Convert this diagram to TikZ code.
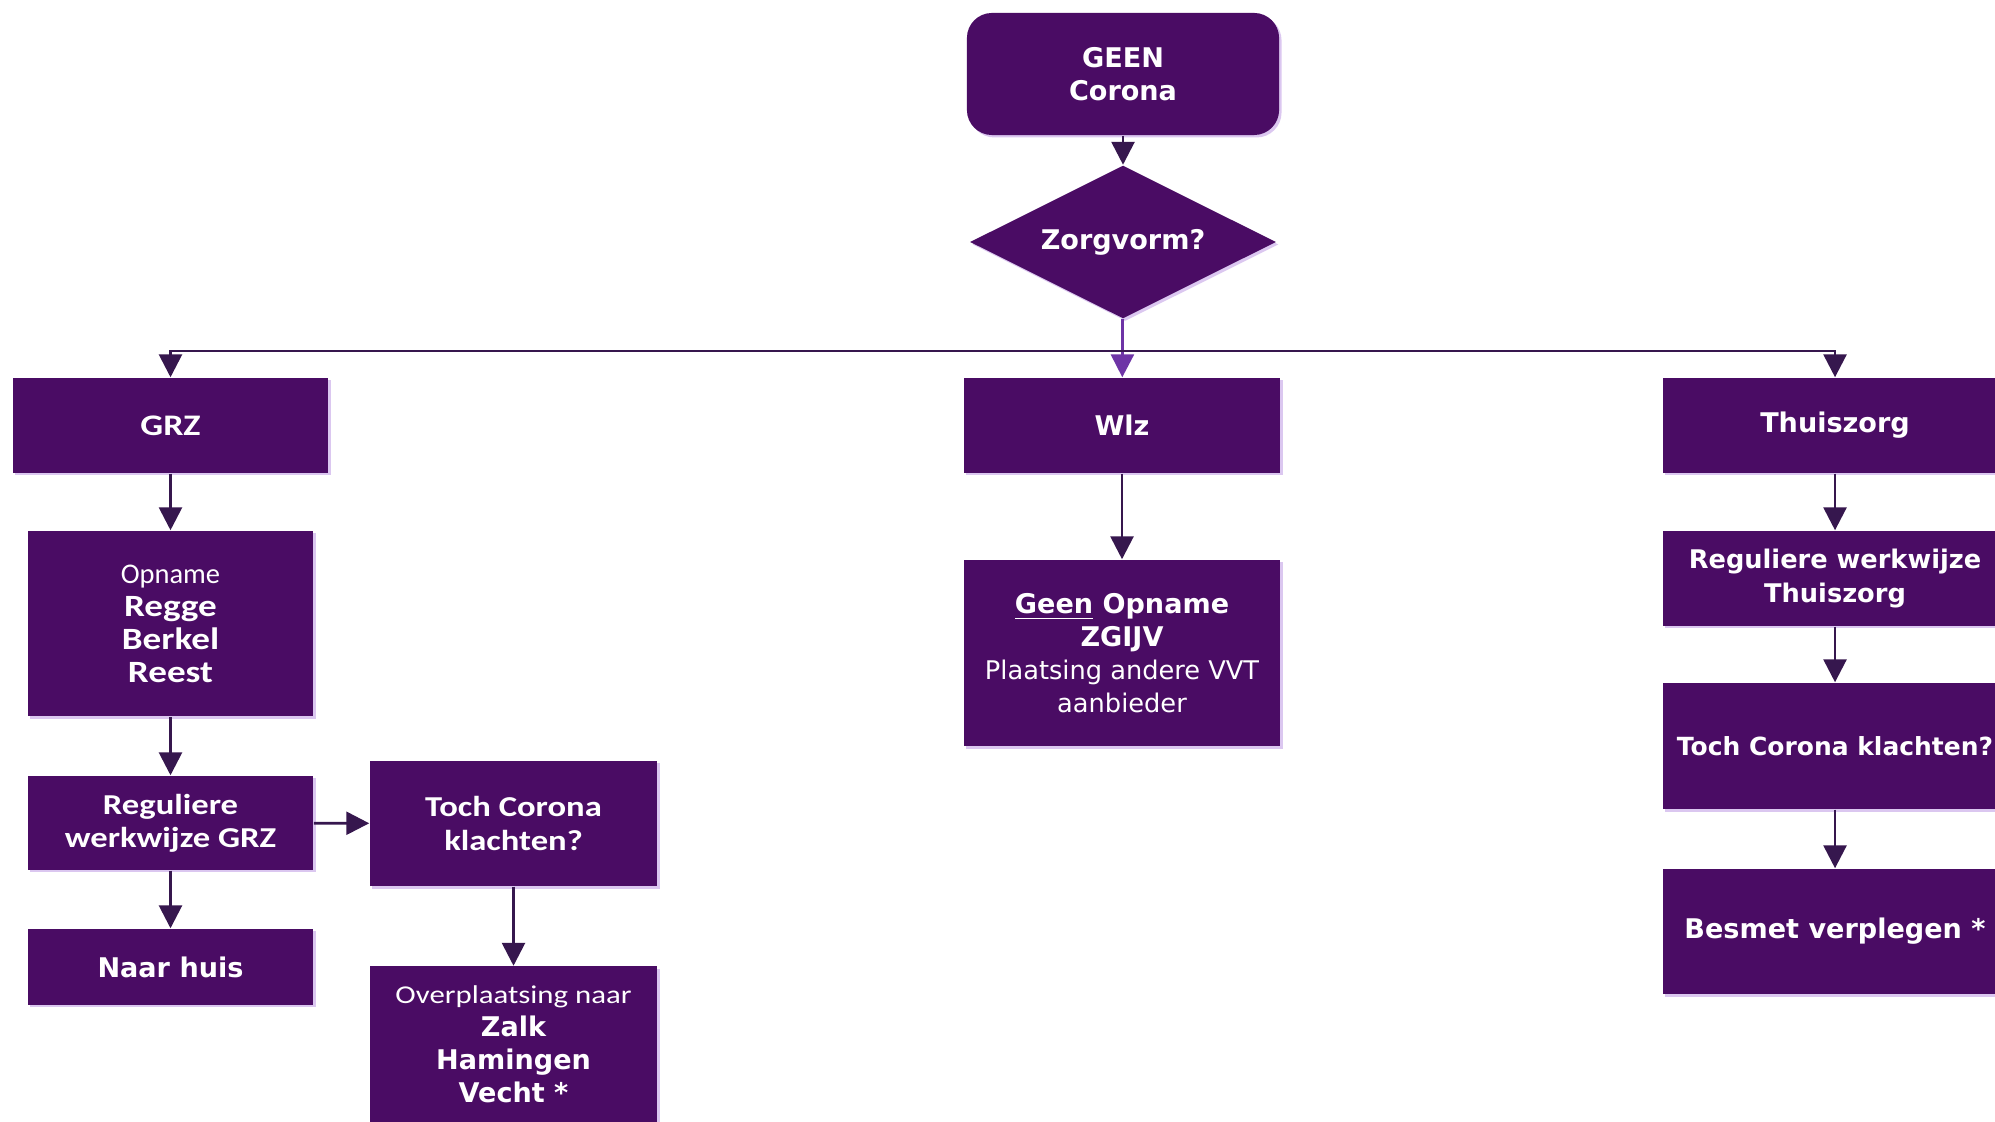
\documentclass[tikz,border=0pt]{standalone}
\usepackage{fontspec}
\setmainfont{DejaVu Sans}
\newfontfamily\calibri{Carlito}
\newfontfamily\calibriwide[FakeStretch=1.2]{Carlito}
\usetikzlibrary{shapes.geometric,arrows.meta,shadows}
\definecolor{boxpurple}{HTML}{4A0C64}
\definecolor{linedark}{HTML}{36174E}
\definecolor{linelight}{HTML}{6E34A6}
\definecolor{glow}{HTML}{CDB0EA}
\begin{document}
\begin{tikzpicture}[x=0.01cm,y=-0.01cm,
  box/.style={fill=boxpurple,text=white,align=center,inner sep=0pt,
    font=\fontsize{7.7}{9.4}\selectfont\bfseries,
    drop shadow={shadow xshift=0.7pt,shadow yshift=-0.7pt,fill=glow,opacity=0.7}},
  leftcol/.style={box,minimum width=2.85cm},
  rightcol/.style={box,minimum width=3.44cm},
  arr/.style={draw=linedark,line width=0.8pt,-{Triangle[length=6.5pt,width=6.5pt]}}]
  \fill[white] (0,0) rectangle (1995,1122);
  \useasboundingbox (0,0) rectangle (1995,1122);
  % top of the chart
  \node[box,rounded corners=0.25cm,minimum width=3.12cm,minimum height=1.22cm] (geen) at (1123,74) {GEEN\\Corona};
  \node[box,diamond,aspect=2,minimum width=3.06cm,minimum height=1.53cm] (zorg) at (1123,242) {Zorgvorm?};
  \coordinate (split) at (1123,351);
  % three kinds of care
  \node[box,minimum width=3.15cm,minimum height=0.95cm,font=\fontsize{8.5}{9.4}\calibriwide\bfseries] (grz) at (170.5,425.5) {GRZ};
  \node[box,minimum width=3.16cm,minimum height=0.95cm] (wlz) at (1122,425.5) {Wlz};
  \node[rightcol,minimum height=0.95cm] (thuis) at (1835,425.5) {Thuiszorg};
  % GRZ column
  \node[leftcol,minimum height=1.85cm,font=\fontsize{8.8}{9.4}\selectfont] (opname) at (170.5,623.5)
    {{\fontsize{8.1}{9.4}\calibri Opname}\\{\calibriwide\bfseries Regge}\\{\calibriwide\bfseries Berkel}\\{\calibriwide\bfseries Reest}};
  \node[leftcol,minimum height=0.94cm,font=\fontsize{8.2}{9.4}\calibriwide\bfseries] (reggrz) at (170.5,823) {Reguliere\\werkwijze GRZ};
  \node[leftcol,minimum height=0.76cm] (huis) at (170.5,967) {Naar huis};
  \node[box,minimum width=2.87cm,minimum height=1.25cm,font=\fontsize{8.2}{9.4}\calibriwide\bfseries] (tochl) at (513.5,823.5) {Toch Corona\\klachten?};
  \node[box,minimum width=2.87cm,minimum height=1.55cm] (overpl) at (513.5,1044)
    {{\fontsize{7.3}{9.4}\calibriwide\mdseries Overplaatsing naar}\\Zalk\\Hamingen\\Vecht *};
  % Wlz column
  \node[box,minimum width=3.16cm,minimum height=1.86cm] (zgijv) at (1122,653)
    {\underline{Geen} Opname\\ZGIJV\\{\fontsize{7.3}{9.4}\selectfont\mdseries Plaatsing andere VVT}\\{\fontsize{7.3}{9.4}\selectfont\mdseries aanbieder}};
  % Thuiszorg column
  \node[rightcol,minimum height=0.95cm,font=\fontsize{7.3}{9.4}\selectfont\bfseries] (regthuis) at (1835,578.5) {Reguliere werkwijze\\Thuiszorg};
  \node[rightcol,minimum height=1.26cm,font=\fontsize{7.1}{9.4}\selectfont\bfseries] (tochr) at (1835,746) {Toch Corona klachten?};
  \node[rightcol,minimum height=1.25cm] (besmet) at (1835,931.5) {Besmet verplegen *};
  % connectors
  \draw[arr] (geen) -- (zorg);
  \draw[arr,draw=linelight] (zorg) -- (wlz);
  \draw[arr] (split) -| (grz);
  \draw[arr] (split) -| (thuis);
  \draw[arr] (grz) -- (opname);
  \draw[arr] (opname) -- (reggrz);
  \draw[arr] (reggrz) -- (huis);
  \draw[arr] (reggrz) -- (tochl);
  \draw[arr] (tochl) -- (overpl);
  \draw[arr] (wlz) -- (zgijv);
  \draw[arr] (thuis) -- (regthuis);
  \draw[arr] (regthuis) -- (tochr);
  \draw[arr] (tochr) -- (besmet);
\end{tikzpicture}
\end{document}
